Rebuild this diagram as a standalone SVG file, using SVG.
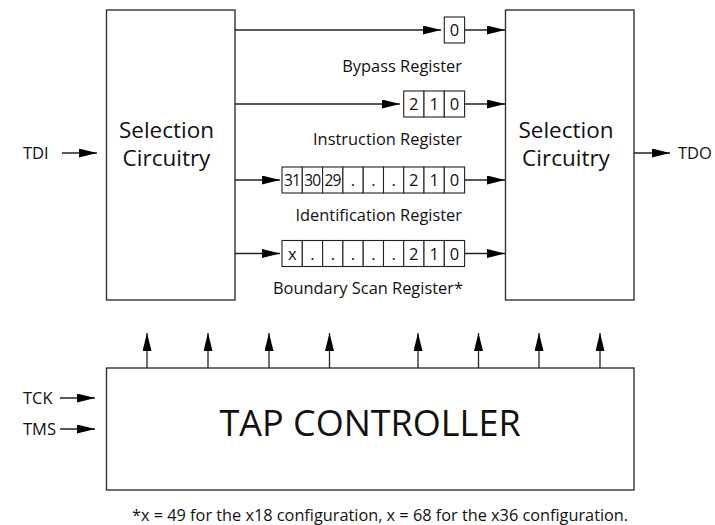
<svg xmlns="http://www.w3.org/2000/svg" width="715" height="525" viewBox="0 0 715 525">
<defs>
<marker id="ah" markerUnits="userSpaceOnUse" markerWidth="18" markerHeight="9" refX="18" refY="4.5" orient="auto">
<path d="M0,0 L18,4.5 L0,9 z" fill="#000"/>
</marker>
<style>
.box{fill:#fff;stroke:#333;stroke-width:1.4}
.cell{fill:#fff;stroke:#222;stroke-width:1.1}
.ln{stroke:#222;stroke-width:1.3;fill:none}
.arr{stroke:#222;stroke-width:1.3;fill:none;marker-end:url(#ah)}
text{font-family:"Open Sans","DejaVu Sans",sans-serif;fill:#111}
.big{font-size:22.5px;text-anchor:middle}
.lbl{font-size:16.4px;text-anchor:end}
.ct{font-size:16.5px;text-anchor:middle}
.ctn{font-size:15.5px;text-anchor:middle;letter-spacing:-0.8px}
.io{font-size:16.5px}
</style>
</defs>
<rect width="715" height="525" fill="#fff"/>
<g id="sel-left">
<rect class="box" x="106.5" y="10" width="128.5" height="290"/>
<text class="big" x="166.5" y="138">Selection</text>
<text class="big" x="166.5" y="166">Circuitry</text>
</g>
<g id="sel-right">
<rect class="box" x="505.5" y="10" width="128.5" height="290"/>
<text class="big" x="566" y="138">Selection</text>
<text class="big" x="566" y="166">Circuitry</text>
</g>
<g id="bypass">
<rect class="cell" x="444.3" y="17" width="20.3" height="26"/>
<text class="ct" x="454.5" y="36">0</text>
<text class="lbl" x="462" y="72">Bypass Register</text>
</g>
<g id="instruction">
<rect class="cell" x="403.7" y="91" width="20.3" height="26"/>
<rect class="cell" x="424" y="91" width="20.3" height="26"/>
<rect class="cell" x="444.3" y="91" width="20.3" height="26"/>
<text class="ct" x="413.8" y="110">2</text>
<text class="ct" x="434.2" y="110">1</text>
<text class="ct" x="454.5" y="110">0</text>
<text class="lbl" x="462" y="145">Instruction Register</text>
</g>
<g id="identification">
<rect class="cell" x="282" y="167" width="20.3" height="26"/>
<rect class="cell" x="302.3" y="167" width="20.3" height="26"/>
<rect class="cell" x="322.6" y="167" width="20.3" height="26"/>
<rect class="cell" x="342.9" y="167" width="20.3" height="26"/>
<rect class="cell" x="363.2" y="167" width="20.3" height="26"/>
<rect class="cell" x="383.5" y="167" width="20.3" height="26"/>
<rect class="cell" x="403.7" y="167" width="20.3" height="26"/>
<rect class="cell" x="424" y="167" width="20.3" height="26"/>
<rect class="cell" x="444.3" y="167" width="20.3" height="26"/>
<text class="ctn" x="292" y="186">31</text>
<text class="ctn" x="312.3" y="186">30</text>
<text class="ctn" x="332.6" y="186">29</text>
<text class="ct" x="353" y="186">.</text>
<text class="ct" x="373.3" y="186">.</text>
<text class="ct" x="393.6" y="186">.</text>
<text class="ct" x="413.8" y="186">2</text>
<text class="ct" x="434.2" y="186">1</text>
<text class="ct" x="454.5" y="186">0</text>
<text class="lbl" x="462" y="220.5">Identification Register</text>
</g>
<g id="boundary">
<rect class="cell" x="282" y="240.5" width="20.3" height="26"/>
<rect class="cell" x="302.3" y="240.5" width="20.3" height="26"/>
<rect class="cell" x="322.6" y="240.5" width="20.3" height="26"/>
<rect class="cell" x="342.9" y="240.5" width="20.3" height="26"/>
<rect class="cell" x="363.2" y="240.5" width="20.3" height="26"/>
<rect class="cell" x="383.5" y="240.5" width="20.3" height="26"/>
<rect class="cell" x="403.7" y="240.5" width="20.3" height="26"/>
<rect class="cell" x="424" y="240.5" width="20.3" height="26"/>
<rect class="cell" x="444.3" y="240.5" width="20.3" height="26"/>
<text class="ct" x="292.2" y="259.5">x</text>
<text class="ct" x="312.5" y="259.5">.</text>
<text class="ct" x="332.8" y="259.5">.</text>
<text class="ct" x="353" y="259.5">.</text>
<text class="ct" x="373.3" y="259.5">.</text>
<text class="ct" x="393.6" y="259.5">.</text>
<text class="ct" x="413.8" y="259.5">2</text>
<text class="ct" x="434.2" y="259.5">1</text>
<text class="ct" x="454.5" y="259.5">0</text>
<text class="lbl" x="463" y="294">Boundary Scan Register*</text>
</g>
<g id="tap">
<rect class="box" x="106.5" y="368" width="527.5" height="122"/>
<text x="370" y="436" style="font-size:36px;text-anchor:middle">TAP CONTROLLER</text>
</g>
<g id="labels">
<text class="io" x="23" y="159">TDI</text>
<text class="io" x="678" y="159">TDO</text>
<text class="io" x="23" y="404">TCK</text>
<text class="io" x="23" y="435">TMS</text>
<text x="132" y="521" style="font-size:16.3px">*x = 49 for the x18 configuration, x = 68 for the x36 configuration.</text>
</g>
<g id="connectors">
<line class="arr" x1="62" y1="153" x2="97" y2="153"/>
<line class="arr" x1="634" y1="153" x2="670" y2="153"/>
<line class="arr" x1="60" y1="398" x2="95" y2="398"/>
<line class="arr" x1="60" y1="429" x2="95" y2="429"/>
<line class="arr" x1="235" y1="30" x2="441" y2="30"/>
<line class="arr" x1="235" y1="104" x2="400" y2="104"/>
<line class="arr" x1="235" y1="180" x2="280" y2="180"/>
<line class="arr" x1="235" y1="253.5" x2="280" y2="253.5"/>
<line class="arr" x1="464.6" y1="30" x2="505" y2="30"/>
<line class="arr" x1="464.6" y1="104" x2="505" y2="104"/>
<line class="arr" x1="464.6" y1="180" x2="505" y2="180"/>
<line class="arr" x1="464.6" y1="253.5" x2="505" y2="253.5"/>
<line class="arr" x1="147" y1="368" x2="147" y2="333"/>
<line class="arr" x1="208" y1="368" x2="208" y2="333"/>
<line class="arr" x1="269" y1="368" x2="269" y2="333"/>
<line class="arr" x1="329.5" y1="368" x2="329.5" y2="333"/>
<line class="arr" x1="418" y1="368" x2="418" y2="333"/>
<line class="arr" x1="478.5" y1="368" x2="478.5" y2="333"/>
<line class="arr" x1="539" y1="368" x2="539" y2="333"/>
<line class="arr" x1="600" y1="368" x2="600" y2="333"/>
</g>
</svg>
